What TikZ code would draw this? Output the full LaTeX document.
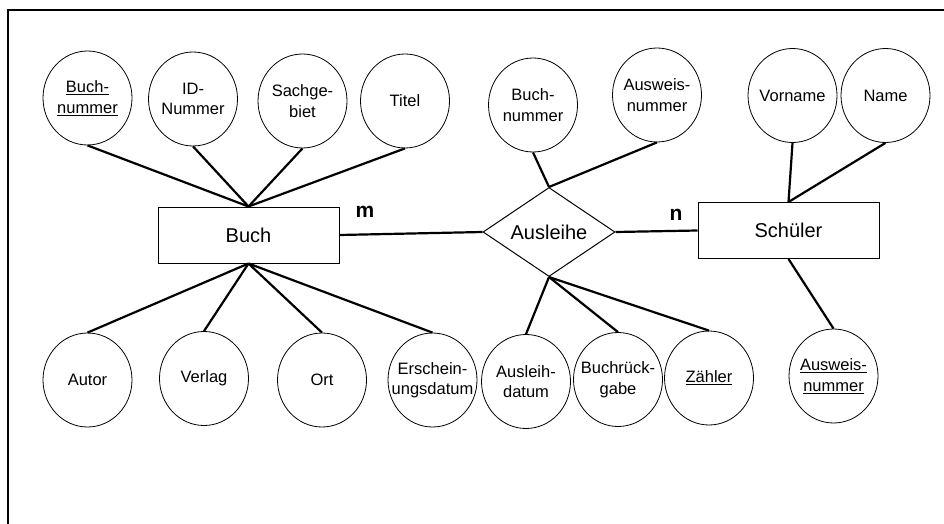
\documentclass[tikz,border=0pt]{standalone}
\usepackage{fontspec}
\setmainfont{Liberation Sans}
\usetikzlibrary{shapes.geometric}
\newcommand\zb[1]{\makebox[0pt]{#1}}
\tikzset{
  attr/.style={draw, ellipse, line width=0.8pt, minimum width=89pt, minimum height=94pt, inner sep=0pt, align=center, font=\fontsize{16.5}{20.5}\selectfont},
  entity/.style={draw, rectangle, line width=1pt, minimum width=181pt, minimum height=56pt, inner sep=0pt, font=\fontsize{20}{24}\selectfont},
  relship/.style={draw, diamond, aspect=1.48, line width=1pt, minimum width=132pt, minimum height=89pt, inner sep=0pt, font=\fontsize{20}{24}\selectfont},
  conn/.style={line width=2.2pt},
  card/.style={anchor=base, inner sep=0pt, font=\bfseries\fontsize{21}{24}\selectfont},
  frameline/.style={line width=2.5pt}
}
\begin{document}
\begin{tikzpicture}[x=1pt, y=-1pt]
\useasboundingbox (0,0) rectangle (944,524);
\coordinate (fa) at (8,524);
\coordinate (fb) at (8,10);
\coordinate (fc) at (944,10);
\draw[frameline] (fa) -- (fb) -- (fc);

% entities and relationship
\node[entity] (buch) at (248.5,235) {Buch};
\node[entity] (schueler) at (788.5,230.5) {Schüler};
\node[relship] (ausleihe) at (549,232) {Ausleihe};

% Buch attributes
\node[attr] (bnr) at (87.5,98) {\zb{\underline{Buch-}}\\\zb{\underline{nummer}}};
\node[attr] (idnr) at (193,99) {\zb{ID-}\\\zb{Nummer}};
\node[attr] (sach) at (302.5,101) {\zb{Sachge-}\\\zb{biet}};
\node[attr] (titel) at (405,101) {\zb{Titel}};
\node[attr] (autor) at (87.5,380) {\zb{Autor}};
\node[attr] (verlag) at (204,378.5) {\zb{Verlag}};
\node[attr] (ort) at (322,380) {\zb{Ort}};
\node[attr] (ersch) at (432.5,380) {\zb{Erschein-}\\\zb{ungsdatum}};

% Ausleihe attributes
\node[attr] (abnr) at (533,105) {\zb{Buch-}\\\zb{nummer}};
\node[attr] (aanr) at (657,95) {\zb{Ausweis-}\\\zb{nummer}};
\node[attr] (adat) at (526,381.5) {\zb{Ausleih-}\\\zb{datum}};
\node[attr] (arueck) at (618,379.5) {\zb{Buchrück-}\\\zb{gabe}};
\node[attr] (zaehler) at (709,378) {\zb{\underline{Zähler}}};

% Schueler attributes
\node[attr] (vorname) at (792.5,95.5) {\zb{Vorname}};
\node[attr] (name) at (885.5,95.5) {\zb{Name}};
\node[attr] (sanr) at (833.5,376) {\zb{\underline{Ausweis-}}\\\zb{\underline{nummer}}};

% connectors
\draw[conn] (bnr.south) -- (buch.north);
\draw[conn] (idnr.south) -- (buch.north);
\draw[conn] (sach.south) -- (buch.north);
\draw[conn] (titel.south) -- (buch.north);
\draw[conn] (buch.south) -- (autor.north);
\draw[conn] (buch.south) -- (verlag.north);
\draw[conn] (buch.south) -- (ort.north);
\draw[conn] (buch.south) -- (ersch.north);

\draw[conn] (abnr.south) -- (ausleihe.north);
\draw[conn] (aanr.south) -- (ausleihe.north);
\draw[conn] (ausleihe.south) -- (adat.north);
\draw[conn] (ausleihe.south) -- (arueck.north);
\draw[conn] (ausleihe.south) -- (zaehler.north);

\draw[conn] (vorname.south) -- (schueler.north);
\draw[conn] (name.south) -- (schueler.north);
\draw[conn] (schueler.south) -- (sanr.north);

\draw[conn] (buch.east) -- (ausleihe.west);
\draw[conn] (ausleihe.east) -- (schueler.west);

% cardinalities
\node[card] (lm) at (365,217) {m};
\node[card] (ln) at (676,220) {n};
\end{tikzpicture}
\end{document}
